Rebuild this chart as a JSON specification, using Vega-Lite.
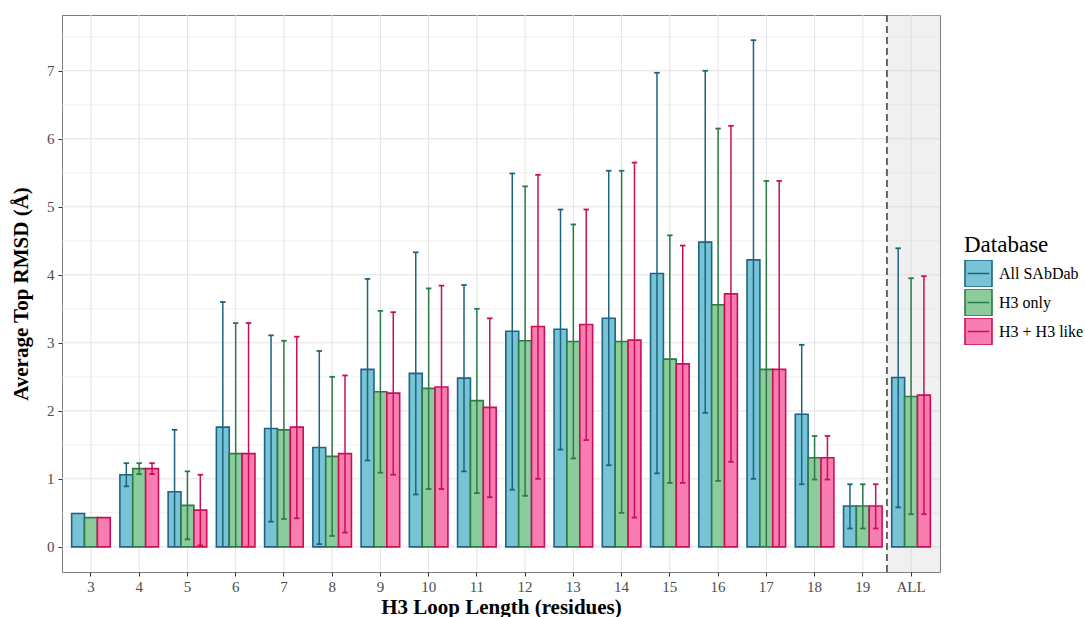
{
  "$schema": "https://vega.github.io/schema/vega-lite/v6.json",
  "width": 878,
  "height": 557,
  "autosize": {"type": "none"},
  "padding": {"left": 62, "top": 15, "right": 145, "bottom": 45},
  "background": "white",
  "config": {
    "font": "Liberation Serif",
    "view": {"stroke": "#7f7f7f", "strokeWidth": 1},
    "axis": {
      "zindex": 0,
      "labelFont": "Liberation Serif",
      "titleFont": "Liberation Serif",
      "labelFontSize": 15,
      "labelColor": "#4d4d4d",
      "titleFontSize": 21,
      "titleFontWeight": "bold",
      "titleColor": "#000000",
      "tickColor": "#333333",
      "tickSize": 4,
      "tickWidth": 1,
      "domain": false,
      "grid": false
    },
    "legend": {
      "titleFont": "Liberation Serif",
      "labelFont": "Liberation Serif",
      "titleFontSize": 23,
      "titleFontWeight": "normal",
      "titleColor": "#000000",
      "labelFontSize": 16,
      "labelColor": "#000000",
      "symbolType": "M-1,-1H1V1H-1Z M-0.8,0H0.8",
      "symbolSize": 729,
      "symbolStrokeWidth": 1.6,
      "clipHeight": 27,
      "rowPadding": 2,
      "labelOffset": 6,
      "titlePadding": 3,
      "labelLimit": 200
    }
  },
  "datasets": {
    "rmsd": [
      {"len": "3", "db": "All SAbDab", "mean": 0.49, "lo": null, "hi": null},
      {"len": "3", "db": "H3 only", "mean": 0.43, "lo": null, "hi": null},
      {"len": "3", "db": "H3 + H3 like", "mean": 0.43, "lo": null, "hi": null},
      {"len": "4", "db": "All SAbDab", "mean": 1.06, "lo": 0.89, "hi": 1.23},
      {"len": "4", "db": "H3 only", "mean": 1.15, "lo": 1.07, "hi": 1.23},
      {"len": "4", "db": "H3 + H3 like", "mean": 1.15, "lo": 1.07, "hi": 1.23},
      {"len": "5", "db": "All SAbDab", "mean": 0.81, "lo": 0, "hi": 1.72},
      {"len": "5", "db": "H3 only", "mean": 0.61, "lo": 0.11, "hi": 1.11},
      {"len": "5", "db": "H3 + H3 like", "mean": 0.54, "lo": 0.02, "hi": 1.06},
      {"len": "6", "db": "All SAbDab", "mean": 1.76, "lo": 0, "hi": 3.60},
      {"len": "6", "db": "H3 only", "mean": 1.37, "lo": 0, "hi": 3.29},
      {"len": "6", "db": "H3 + H3 like", "mean": 1.37, "lo": 0, "hi": 3.29},
      {"len": "7", "db": "All SAbDab", "mean": 1.74, "lo": 0.37, "hi": 3.11},
      {"len": "7", "db": "H3 only", "mean": 1.72, "lo": 0.41, "hi": 3.03},
      {"len": "7", "db": "H3 + H3 like", "mean": 1.76, "lo": 0.42, "hi": 3.09},
      {"len": "8", "db": "All SAbDab", "mean": 1.46, "lo": 0.04, "hi": 2.88},
      {"len": "8", "db": "H3 only", "mean": 1.33, "lo": 0.16, "hi": 2.50},
      {"len": "8", "db": "H3 + H3 like", "mean": 1.37, "lo": 0.21, "hi": 2.52},
      {"len": "9", "db": "All SAbDab", "mean": 2.61, "lo": 1.27, "hi": 3.94},
      {"len": "9", "db": "H3 only", "mean": 2.28, "lo": 1.09, "hi": 3.47},
      {"len": "9", "db": "H3 + H3 like", "mean": 2.26, "lo": 1.06, "hi": 3.45},
      {"len": "10", "db": "All SAbDab", "mean": 2.55, "lo": 0.77, "hi": 4.33},
      {"len": "10", "db": "H3 only", "mean": 2.33, "lo": 0.85, "hi": 3.80},
      {"len": "10", "db": "H3 + H3 like", "mean": 2.35, "lo": 0.85, "hi": 3.84},
      {"len": "11", "db": "All SAbDab", "mean": 2.48, "lo": 1.11, "hi": 3.85},
      {"len": "11", "db": "H3 only", "mean": 2.15, "lo": 0.79, "hi": 3.50},
      {"len": "11", "db": "H3 + H3 like", "mean": 2.05, "lo": 0.73, "hi": 3.36},
      {"len": "12", "db": "All SAbDab", "mean": 3.17, "lo": 0.84, "hi": 5.49},
      {"len": "12", "db": "H3 only", "mean": 3.03, "lo": 0.75, "hi": 5.30},
      {"len": "12", "db": "H3 + H3 like", "mean": 3.24, "lo": 1.00, "hi": 5.47},
      {"len": "13", "db": "All SAbDab", "mean": 3.20, "lo": 1.43, "hi": 4.96},
      {"len": "13", "db": "H3 only", "mean": 3.02, "lo": 1.30, "hi": 4.74},
      {"len": "13", "db": "H3 + H3 like", "mean": 3.27, "lo": 1.57, "hi": 4.96},
      {"len": "14", "db": "All SAbDab", "mean": 3.36, "lo": 1.20, "hi": 5.53},
      {"len": "14", "db": "H3 only", "mean": 3.02, "lo": 0.50, "hi": 5.53},
      {"len": "14", "db": "H3 + H3 like", "mean": 3.04, "lo": 0.43, "hi": 5.65},
      {"len": "15", "db": "All SAbDab", "mean": 4.02, "lo": 1.08, "hi": 6.97},
      {"len": "15", "db": "H3 only", "mean": 2.76, "lo": 0.94, "hi": 4.58},
      {"len": "15", "db": "H3 + H3 like", "mean": 2.69, "lo": 0.94, "hi": 4.43},
      {"len": "16", "db": "All SAbDab", "mean": 4.48, "lo": 1.97, "hi": 7.00},
      {"len": "16", "db": "H3 only", "mean": 3.56, "lo": 0.97, "hi": 6.15},
      {"len": "16", "db": "H3 + H3 like", "mean": 3.72, "lo": 1.25, "hi": 6.19},
      {"len": "17", "db": "All SAbDab", "mean": 4.22, "lo": 1.00, "hi": 7.45},
      {"len": "17", "db": "H3 only", "mean": 2.61, "lo": 0, "hi": 5.38},
      {"len": "17", "db": "H3 + H3 like", "mean": 2.61, "lo": 0, "hi": 5.38},
      {"len": "18", "db": "All SAbDab", "mean": 1.95, "lo": 0.92, "hi": 2.97},
      {"len": "18", "db": "H3 only", "mean": 1.31, "lo": 0.99, "hi": 1.63},
      {"len": "18", "db": "H3 + H3 like", "mean": 1.31, "lo": 0.99, "hi": 1.63},
      {"len": "19", "db": "All SAbDab", "mean": 0.60, "lo": 0.27, "hi": 0.92},
      {"len": "19", "db": "H3 only", "mean": 0.60, "lo": 0.27, "hi": 0.92},
      {"len": "19", "db": "H3 + H3 like", "mean": 0.60, "lo": 0.27, "hi": 0.92},
      {"len": "ALL", "db": "All SAbDab", "mean": 2.49, "lo": 0.58, "hi": 4.39},
      {"len": "ALL", "db": "H3 only", "mean": 2.21, "lo": 0.48, "hi": 3.95},
      {"len": "ALL", "db": "H3 + H3 like", "mean": 2.23, "lo": 0.48, "hi": 3.98}
    ],
    "cats": [
      {"len": "3"}, {"len": "4"}, {"len": "5"}, {"len": "6"}, {"len": "7"}, {"len": "8"},
      {"len": "9"}, {"len": "10"}, {"len": "11"}, {"len": "12"}, {"len": "13"}, {"len": "14"},
      {"len": "15"}, {"len": "16"}, {"len": "17"}, {"len": "18"}, {"len": "19"}, {"len": "ALL"}
    ],
    "ymajor": [{"v": 0}, {"v": 1}, {"v": 2}, {"v": 3}, {"v": 4}, {"v": 5}, {"v": 6}, {"v": 7}],
    "yminor": [{"v": 0.5}, {"v": 1.5}, {"v": 2.5}, {"v": 3.5}, {"v": 4.5}, {"v": 5.5}, {"v": 6.5}, {"v": 7.5}],
    "allband": [{"len": "ALL"}]
  },
  "layer": [
    {
      "data": {"name": "yminor"},
      "mark": {"type": "rule", "stroke": "#e6e6e6", "strokeWidth": 0.6},
      "encoding": {
        "y": {"field": "v", "type": "quantitative", "scale": {"domain": [-0.37, 7.82], "nice": false, "zero": false}}
      }
    },
    {
      "data": {"name": "ymajor"},
      "mark": {"type": "rule", "stroke": "#e3e3e3", "strokeWidth": 1},
      "encoding": {
        "y": {"field": "v", "type": "quantitative", "scale": {"domain": [-0.37, 7.82], "nice": false, "zero": false}}
      }
    },
    {
      "data": {"name": "cats"},
      "mark": {"type": "rule", "stroke": "#e3e3e3", "strokeWidth": 1},
      "encoding": {
        "x": {"field": "len", "type": "nominal",
              "scale": {"domain": ["3","4","5","6","7","8","9","10","11","12","13","14","15","16","17","18","19","ALL"], "paddingInner": 0, "paddingOuter": 0.1},
              "axis": {"title": "H3 Loop Length (residues)", "labelAngle": 0, "labelPadding": 3, "titlePadding": 2}}
      }
    },
    {
      "data": {"name": "allband"},
      "mark": {"type": "rect", "fill": "#d4d4d4", "opacity": 0.35},
      "encoding": {
        "x": {"field": "len", "type": "nominal", "bandPosition": 0,
              "scale": {"domain": ["3","4","5","6","7","8","9","10","11","12","13","14","15","16","17","18","19","ALL"], "paddingInner": 0, "paddingOuter": 0.1}},
        "x2": {"value": "width"},
        "y": {"value": 0},
        "y2": {"value": "height"}
      }
    },
    {
      "data": {"name": "rmsd"},
      "mark": {"type": "bar", "strokeWidth": 1.6, "fillOpacity": 1},
      "encoding": {
        "x": {"field": "len", "type": "nominal",
              "scale": {"domain": ["3","4","5","6","7","8","9","10","11","12","13","14","15","16","17","18","19","ALL"], "paddingInner": 0, "paddingOuter": 0.1}},
        "xOffset": {"field": "db", "type": "nominal",
                    "scale": {"domain": ["All SAbDab", "H3 only", "H3 + H3 like"], "paddingInner": 0, "paddingOuter": 0.375}},
        "y": {"field": "mean", "type": "quantitative", "stack": null,
              "scale": {"domain": [-0.37, 7.82], "nice": false, "zero": false},
              "axis": {"title": "Average Top RMSD (Å)",
                       "values": [0, 1, 2, 3, 4, 5, 6, 7],
                       "format": "d",
                       "labelPadding": 4, "titlePadding": 15}},
        "fill": {"field": "db", "type": "nominal", "title": "Database",
                 "scale": {"domain": ["All SAbDab", "H3 only", "H3 + H3 like"], "range": ["#78c3d6", "#8ccc9c", "#f87db1"]},
                 "legend": {"orient": "none", "legendX": 902, "legendY": 219}},
        "stroke": {"field": "db", "type": "nominal", "title": "Database",
                   "scale": {"domain": ["All SAbDab", "H3 only", "H3 + H3 like"], "range": ["#1c6482", "#2b7a47", "#cc0e59"]},
                   "legend": {"orient": "none", "legendX": 902, "legendY": 219}}
      }
    },
    {
      "data": {"name": "rmsd"},
      "transform": [{"filter": "datum.hi != null"}],
      "mark": {"type": "rule", "strokeWidth": 1.5},
      "encoding": {
        "x": {"field": "len", "type": "nominal",
              "scale": {"domain": ["3","4","5","6","7","8","9","10","11","12","13","14","15","16","17","18","19","ALL"], "paddingInner": 0, "paddingOuter": 0.1}},
        "xOffset": {"field": "db", "type": "nominal",
                    "scale": {"domain": ["All SAbDab", "H3 only", "H3 + H3 like"], "paddingInner": 0, "paddingOuter": 0.375}},
        "y": {"field": "lo", "type": "quantitative", "scale": {"domain": [-0.37, 7.82], "nice": false, "zero": false}},
        "y2": {"field": "hi"},
        "stroke": {"field": "db", "type": "nominal"}
      }
    },
    {
      "data": {"name": "rmsd"},
      "transform": [{"filter": "datum.hi != null"}],
      "mark": {"type": "point", "shape": "M-1,0H1", "size": 30, "filled": false, "strokeWidth": 1.8, "opacity": 1},
      "encoding": {
        "x": {"field": "len", "type": "nominal",
              "scale": {"domain": ["3","4","5","6","7","8","9","10","11","12","13","14","15","16","17","18","19","ALL"], "paddingInner": 0, "paddingOuter": 0.1}},
        "xOffset": {"field": "db", "type": "nominal",
                    "scale": {"domain": ["All SAbDab", "H3 only", "H3 + H3 like"], "paddingInner": 0, "paddingOuter": 0.375}},
        "y": {"field": "hi", "type": "quantitative", "scale": {"domain": [-0.37, 7.82], "nice": false, "zero": false}},
        "stroke": {"field": "db", "type": "nominal"}
      }
    },
    {
      "data": {"name": "rmsd"},
      "transform": [{"filter": "datum.lo != null && datum.lo > 0.01"}],
      "mark": {"type": "point", "shape": "M-1,0H1", "size": 30, "filled": false, "strokeWidth": 1.8, "opacity": 1},
      "encoding": {
        "x": {"field": "len", "type": "nominal",
              "scale": {"domain": ["3","4","5","6","7","8","9","10","11","12","13","14","15","16","17","18","19","ALL"], "paddingInner": 0, "paddingOuter": 0.1}},
        "xOffset": {"field": "db", "type": "nominal",
                    "scale": {"domain": ["All SAbDab", "H3 only", "H3 + H3 like"], "paddingInner": 0, "paddingOuter": 0.375}},
        "y": {"field": "lo", "type": "quantitative", "scale": {"domain": [-0.37, 7.82], "nice": false, "zero": false}},
        "stroke": {"field": "db", "type": "nominal"}
      }
    },
    {
      "data": {"name": "allband"},
      "mark": {"type": "rule", "stroke": "#595959", "strokeWidth": 1.8, "strokeDash": [7, 4]},
      "encoding": {
        "x": {"field": "len", "type": "nominal", "bandPosition": 0,
              "scale": {"domain": ["3","4","5","6","7","8","9","10","11","12","13","14","15","16","17","18","19","ALL"], "paddingInner": 0, "paddingOuter": 0.1}}
      }
    }
  ]
}
